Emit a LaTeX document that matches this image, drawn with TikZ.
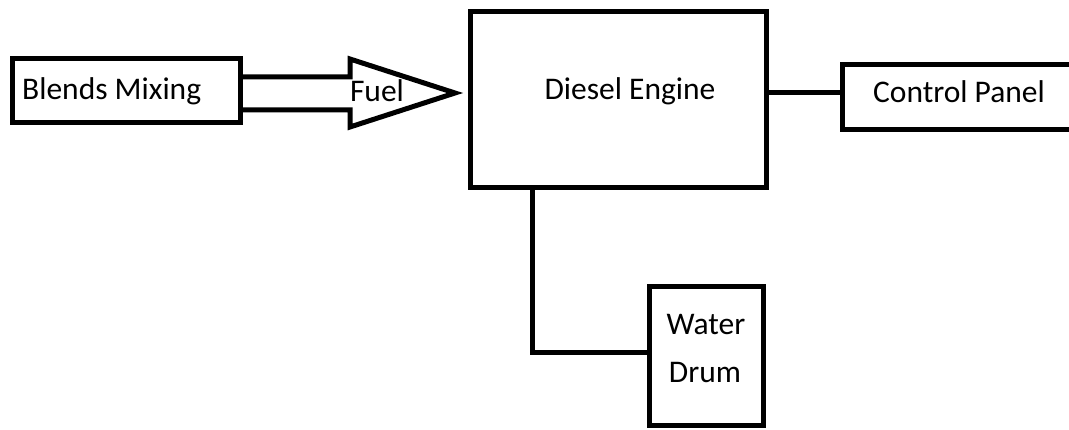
\documentclass[tikz,border=0pt]{standalone}
\usepackage{fontspec}
\setmainfont{Carlito}
\begin{document}
\begin{tikzpicture}[x=1pt,y=-1pt,
  box/.style={draw, line width=5pt, inner sep=0pt, outer sep=0pt, anchor=north west},
  lbl/.style={font=\fontsize{31.5}{38}\selectfont, inner sep=0pt, anchor=base},
  wire/.style={line width=5pt, line join=miter}]
\useasboundingbox (0,0) rectangle (1069,430);
\clip (0,0) rectangle (1069,430);
% boxes
\node[box, minimum width=228, minimum height=64] (blends) at (12,59) {};
\node[box, minimum width=296, minimum height=176] (diesel) at (470,12) {};
\node[box, minimum width=260, minimum height=65] (control) at (842,65) {};
\node[box, minimum width=114, minimum height=139] (water) at (649,287) {};
% labels
\node[lbl, anchor=base west] (blendsT) at (22,100) {Blends Mixing};
\node[lbl] (dieselT) at (630,100) {Diesel Engine};
\node[lbl] (controlT) at (959,103) {Control Panel};
\node[lbl] (waterT) at (706,335) {Water};
\node[lbl] (drumT) at (705,383) {Drum};
\node[lbl] (fuelT) at (377,102) {Fuel};
% block arrow (fuel)
\coordinate (tip) at (455,93);
\draw[wire] (blends.east |- 0,77) -- (350,77) -- (350,59) -- (tip)
  -- (350,127) -- (350,110) -- (blends.east |- 0,110);
% connectors
\draw[wire] (diesel.east |- 0,93) -- (control.west |- 0,93);
\draw[wire] ([xshift=62pt]diesel.south west) |- ([yshift=-66pt]water.north west);
\end{tikzpicture}
\end{document}
